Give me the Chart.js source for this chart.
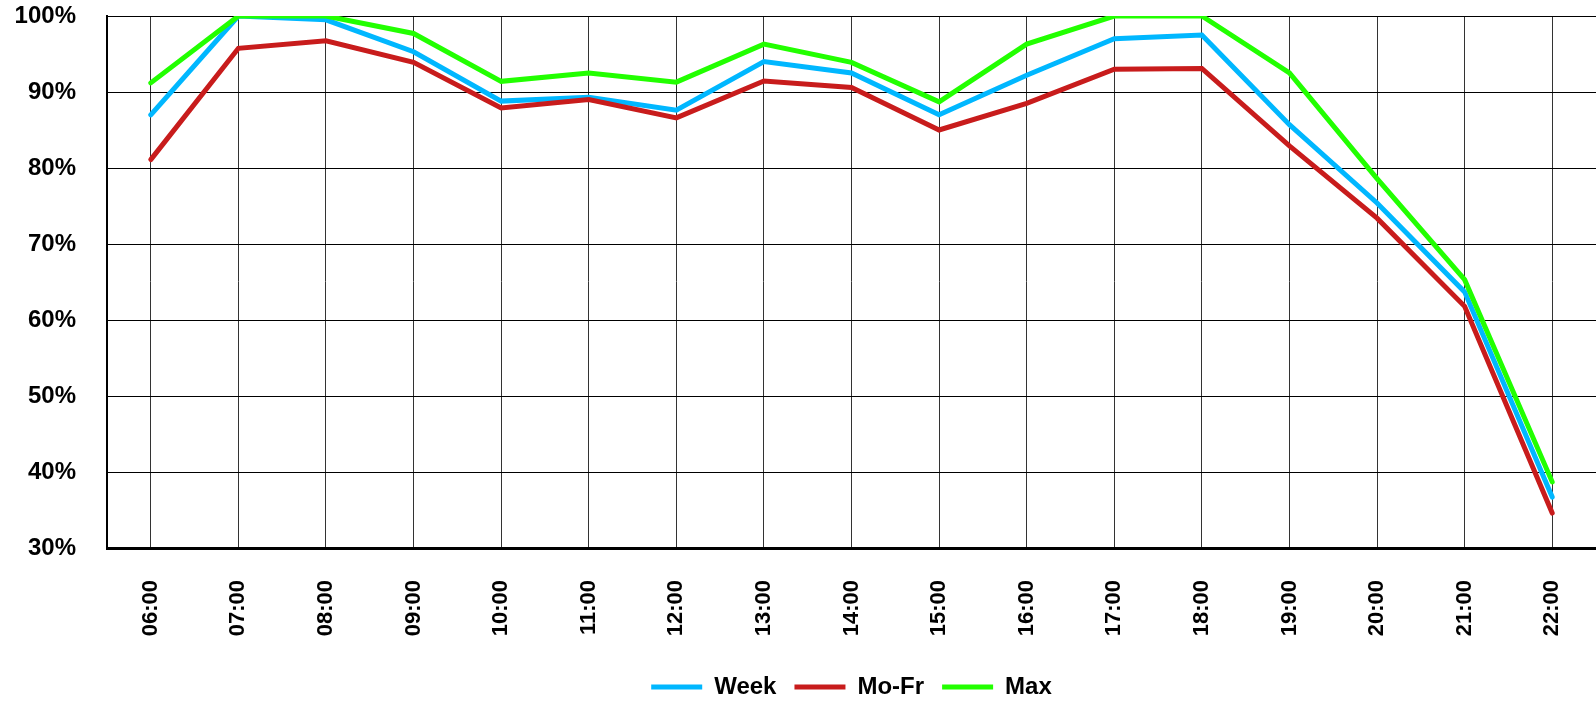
<!DOCTYPE html>
<html>
<head>
<meta charset="utf-8">
<script src="https://cdn.jsdelivr.net/npm/chart.js@4/dist/chart.umd.min.js"></script>
<style>
  html, body { margin: 0; padding: 0; background: #fff; }
  #wrap { width: 1596px; height: 704px; }
</style>
</head>
<body>
<div id="wrap"><canvas id="chart"></canvas></div>
<script>
// hours on the x axis
var hours = ["06:00", "07:00", "08:00", "09:00", "10:00", "11:00", "12:00", "13:00", "14:00",
             "15:00", "16:00", "17:00", "18:00", "19:00", "20:00", "21:00", "22:00"];

// values in percent
var week = [87.0, 100, 99.5, 95.3, 88.8, 89.3, 87.6, 94.0, 92.5, 87.0, 92.2, 97.0, 97.5, 85.7, 75.4, 63.7, 36.7];
var moFr = [81.1, 95.75, 96.75, 93.9, 87.9, 89.0, 86.6, 91.45, 90.6, 85.0, 88.5, 93.0, 93.1, 82.9, 73.4, 61.8, 34.6];
var max  = [91.2, 100, 100, 97.7, 91.4, 92.5, 91.3, 96.3, 93.9, 88.7, 96.3, 100, 100, 92.5, 78.6, 65.3, 38.7];

var seriesNames = ["Week", "Mo-Fr", "Max"];
var seriesColors = ["rgb(0,183,255)", "rgb(200,28,28)", "rgb(34,255,0)"];

var yMin = 30, yMax = 100, yStep = 10;

var fontFamily = "'Liberation Sans', Arial, sans-serif";

function makeDataset(i, values, order){
    return {
        label: seriesNames[i],
        data: values,
        borderColor: seriesColors[i],
        backgroundColor: seriesColors[i],
        borderWidth: 5,
        borderCapStyle: "round",
        borderJoinStyle: "miter",
        pointRadius: 0,
        pointHoverRadius: 0,
        tension: 0,
        fill: false,
        order: order
    };
}

var ctx = document.getElementById("chart").getContext("2d");

var lineChart = new Chart(ctx, {
    type: "line",
    data: {
        labels: hours,
        datasets: [
            makeDataset(0, week, 2),
            makeDataset(1, moFr, 1),
            makeDataset(2, max, 0)
        ]
    },
    options: {
        responsive: true,
        maintainAspectRatio: false,
        animation: false,
        devicePixelRatio: 1,
        layout: { padding: { top: 16, left: 0, right: 0, bottom: -5 } },
        plugins: {
            tooltip: { enabled: false },
            legend: {
                position: "bottom",
                fullSize: false,
                labels: {
                    color: "#000",
                    font: { family: fontFamily, size: 24, weight: "bold" },
                    usePointStyle: true,
                    pointStyle: "line",
                    pointStyleWidth: 51,
                    padding: 18,
                    sort: function(a, b){ return a.datasetIndex - b.datasetIndex; }
                }
            }
        },
        scales: {
            x: {
                offset: true,
                grid: {
                    offset: false,
                    color: "#333",
                    lineWidth: 1,
                    drawTicks: false
                },
                border: { display: true, color: "#000", width: 3 },
                ticks: {
                    color: "#000",
                    font: { family: fontFamily, size: 22, weight: "bold" },
                    minRotation: 90,
                    maxRotation: 90,
                    autoSkip: false,
                    padding: 32
                },
                afterFit: function(scale){
                    scale.height = 109;
                    scale.paddingLeft = 0;
                    scale.paddingRight = 0;
                }
            },
            y: {
                min: yMin,
                max: yMax,
                grid: {
                    color: "#000",
                    lineWidth: 1,
                    drawTicks: false
                },
                border: { display: true, color: "#000", width: 2 },
                ticks: {
                    stepSize: yStep,
                    color: "#000",
                    font: { family: fontFamily, size: 24, weight: "bold" },
                    padding: 31,
                    callback: function(v){ return v + "%"; }
                },
                afterFit: function(scale){
                    scale.width = 107;
                    scale.paddingTop = 0;
                    scale.paddingBottom = 0;
                }
            }
        }
    }
});
</script>
</body>
</html>
